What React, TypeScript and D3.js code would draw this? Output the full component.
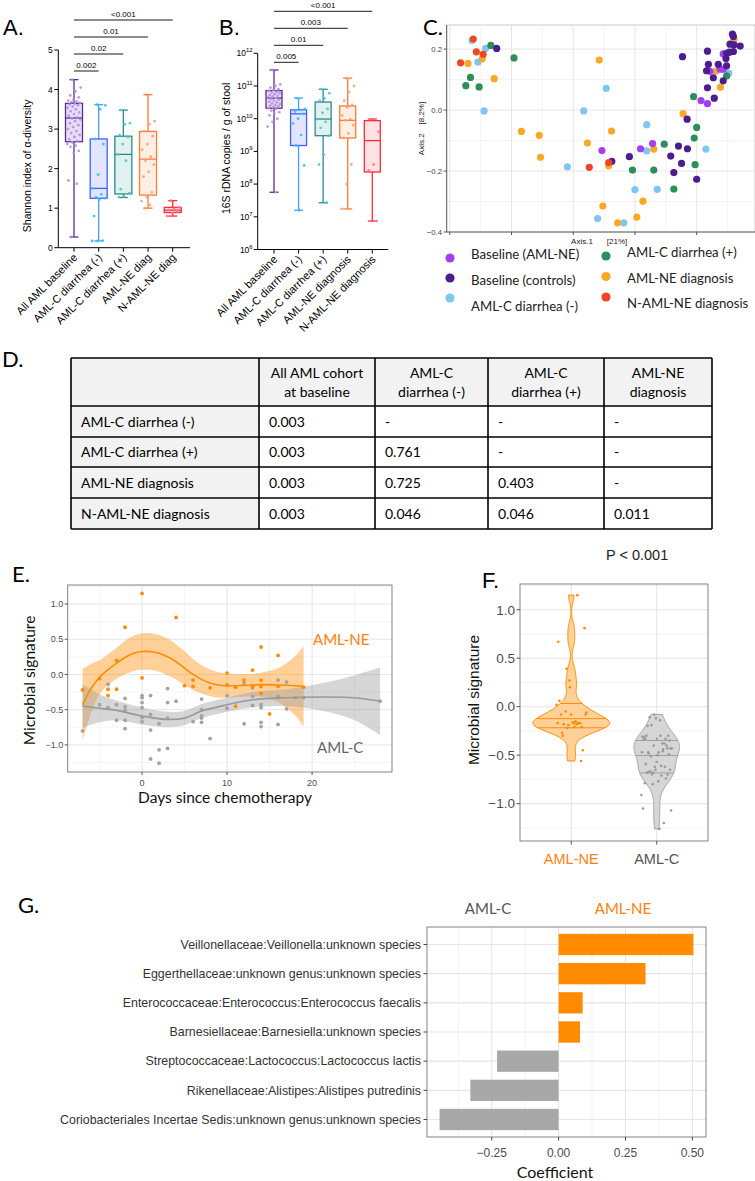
import React from "react";
import * as d3 from "d3";

const ARIAL = "'Liberation Sans', Arial, Helvetica, sans-serif";
const CAL = "Lato, 'Open Sans', sans-serif";

// ---------------- Panel A: Shannon diversity ----------------
const catsA = ["All AML baseline", "AML-C diarrhea (-)", "AML-C diarrhea (+)", "AML-NE diag", "N-AML-NE diag"];
const minA = [0.27, 0.17, 1.27, 1.0, 0.8];
const q1A = [2.68, 1.25, 1.36, 1.33, 0.89];
const medA = [3.28, 1.5, 2.36, 2.24, 0.95];
const q3A = [3.65, 2.75, 2.82, 2.94, 1.02];
const maxA = [4.25, 3.62, 3.48, 3.87, 1.19];
const ptsA1 = [4.25, 4.05, 3.95, 3.85, 3.8, 3.75, 3.72, 3.7, 3.68, 3.66, 3.64, 3.62, 3.6, 3.57, 3.54, 3.5, 3.45, 3.42, 3.38, 3.34, 3.3, 3.27, 3.24, 3.2, 3.15, 3.1, 3.05, 3.0, 2.95, 2.9, 2.85, 2.8, 2.74, 2.7, 2.66, 2.62, 2.58, 2.55, 2.45, 2.4, 1.7, 1.62, 0.27];
const ptsA2 = [3.62, 3.6, 3.5, 2.75, 2.62, 1.85, 1.5, 1.35, 1.28, 1.25, 1.22, 0.8, 0.18, 0.17, 0.17];
const ptsA3 = [3.48, 3.15, 3.12, 2.85, 2.8, 2.62, 2.36, 2.2, 1.48, 1.38, 1.3, 1.28];
const ptsA4 = [3.87, 3.2, 3.12, 2.95, 2.82, 2.62, 2.48, 2.3, 2.2, 2.1, 1.92, 1.8, 1.4, 1.28, 1.18, 1.08, 1.0];
const ptsA5 = [1.19, 1.02, 0.98, 0.95, 0.92, 0.88, 0.8];
const ticksA = [0, 1, 2, 3, 4, 5];
const bracketsA = ["0.002", "0.02", "0.01", "<0.001"];

// ---------------- Panel B: 16S copies (log10) ----------------
const catsB = ["All AML baseline", "AML-C diarrhea (-)", "AML-C diarrhea (+)", "AML-NE diagnosis", "N-AML-NE diagnosis"];
const minB = [7.75, 7.2, 7.43, 7.24, 6.87];
const q1B = [10.32, 9.18, 9.48, 9.41, 8.37];
const medB = [10.63, 10.15, 9.99, 9.95, 9.33];
const q3B = [10.86, 10.27, 10.51, 10.39, 9.94];
const maxB = [11.49, 10.63, 10.9, 11.24, 9.99];
const ptsB1 = [11.49, 11.05, 11.0, 10.95, 10.9, 10.88, 10.85, 10.82, 10.8, 10.78, 10.75, 10.72, 10.7, 10.68, 10.65, 10.63, 10.6, 10.58, 10.55, 10.52, 10.5, 10.47, 10.45, 10.42, 10.4, 10.38, 10.35, 10.32, 10.3, 10.25, 10.2, 10.15, 10.1, 10.0, 9.9, 9.76, 7.75];
const ptsB2 = [10.63, 10.3, 10.27, 10.22, 10.15, 10.0, 9.85, 9.5, 9.18, 8.57, 7.2];
const ptsB3 = [10.9, 10.78, 10.62, 10.55, 10.3, 10.18, 9.99, 9.9, 9.72, 9.48, 8.9, 8.6, 7.43];
const ptsB4 = [11.24, 11.0, 10.82, 10.55, 10.42, 10.35, 10.1, 9.98, 9.95, 9.8, 9.55, 9.41, 8.6, 8.0, 7.24];
const ptsB5 = [9.99, 9.6, 8.6, 8.42, 6.87];
const ticksB = [6, 7, 8, 9, 10, 11, 12];
const bracketsB = ["0.005", "0.01", "0.003", "<0.001"];

const boxStroke = ["#5b2d91", "#3a62ff", "#2b8a8f", "#ff7a36", "#ff2a3a"];
const boxWhisk = ["#5b2d91", "#4a9cff", "#2b8a8f", "#ff7a36", "#ff2a3a"];
const boxFill = ["#e8ddf5", "#e3e5ff", "#e1f1ef", "#feefe4", "#ffe2e4"];
const boxPt = ["#b391e2", "#2ec2ff", "#4ccac4", "#ffa071", "#ff7a86"];

// ---------------- Panel C: PCoA ----------------
const groupsC = ["Baseline (AML-NE)", "Baseline (controls)", "AML-C diarrhea (-)", "AML-C diarrhea (+)", "AML-NE diagnosis", "N-AML-NE diagnosis"];
const colorsC = ["#a23ff0", "#4b1d8e", "#80c6f0", "#2f8d5a", "#f7a924", "#ee4622"];
const pcoaBaselineNE = [[0.093, -0.133], [0.218, -0.127], [0.257, -0.11], [0.443, 0.127], [0.476, 0.134], [0.486, 0.134], [0.414, 0.031], [0.435, 0.021], [0.486, 0.184]];
const pcoaControls = [[-0.248, 0.202], [0.125, -0.168], [0.182, -0.153], [0.316, -0.151], [0.341, -0.118], [0.37, -0.127], [0.351, -0.175], [0.326, -0.205], [0.4, -0.227], [0.369, -0.03], [0.354, 0.175], [0.435, 0.193], [0.438, 0.15], [0.47, 0.15], [0.432, 0.129], [0.454, 0.106], [0.497, 0.145], [0.486, 0.096], [0.435, 0.073], [0.457, 0.039], [0.497, 0.186], [0.506, 0.19], [0.495, 0.169], [0.519, 0.192], [0.519, 0.241], [0.516, 0.249], [0.521, 0.214], [0.541, 0.21], [0.508, 0.216]];
const pcoaDiarrheaNeg = [[-0.328, 0.228], [-0.284, 0.202], [-0.309, 0.157], [-0.289, -0.003], [0.107, 0.071], [0.034, -0.003], [-0.019, -0.186], [0.238, -0.134], [0.238, -0.048], [0.2, -0.261], [0.272, -0.26], [0.079, -0.356], [0.164, -0.37], [0.43, -0.128], [0.504, 0.121]];
const pcoaDiarrheaPos = [[-0.267, 0.212], [-0.192, 0.171], [-0.333, 0.107], [-0.348, 0.08], [-0.305, 0.076], [0.295, -0.112], [0.192, -0.197], [0.261, -0.197], [0.395, -0.179], [0.392, -0.092], [0.4, -0.057], [0.326, -0.259], [0.497, 0.112], [0.39, 0.044]];
const pcoaNEdiag = [[-0.295, 0.168], [-0.341, 0.153], [-0.256, 0.103], [0.084, 0.164], [-0.168, -0.07], [-0.11, -0.083], [-0.106, -0.155], [0.046, -0.108], [0.115, -0.183], [0.124, -0.069], [0.261, -0.128], [0.356, -0.012], [0.226, -0.299], [0.096, -0.315], [0.206, -0.351], [0.144, -0.37], [0.462, 0.128], [0.477, 0.075], [0.521, 0.23]];
const pcoaNonNEdiag = [[-0.324, 0.233], [-0.314, 0.191], [-0.292, 0.183], [-0.365, 0.155], [0.115, -0.172], [0.052, -0.188]];
const ticksCx = [-0.4, -0.2, 0, 0.2, 0.4];
const ticksCy = [-0.4, -0.2, 0, 0.2];

// ---------------- Panel D: table ----------------
const tableHeader = [[""], ["All AML cohort", "at baseline"], ["AML-C", "diarrhea (-)"], ["AML-C", "diarrhea (+)"], ["AML-NE", "diagnosis"]];
const tableRows = ["AML-C diarrhea (-)", "AML-C diarrhea (+)", "AML-NE diagnosis", "N-AML-NE diagnosis"];
const tableValues = [
  ["0.003", "-", "-", "-"],
  ["0.003", "0.761", "-", "-"],
  ["0.003", "0.725", "0.403", "-"],
  ["0.003", "0.046", "0.046", "0.011"],
];

// ---------------- Panel E: microbial signature over time ----------------
const neDays = [-7, -5, -4, -4, -3, -3, -2, 0, 0, 4, 5, 6, 6, 8, 10, 10, 11, 11, 12, 13, 13, 14, 14, 14, 14, 15, 16, 16, 19];
const neVals = [-0.22, -0.06, -0.21, -0.3, -0.21, 0.2, 0.67, 1.15, -0.05, 0.81, -0.16, -0.08, -0.17, -0.19, 0.02, -0.15, -0.18, -0.45, -0.08, 0.06, -0.17, 0.39, -0.08, -0.17, -0.27, -0.56, 0.27, -0.17, -0.18];
const cDays = [-7, -5, -4, -4, -3, -3, -2, -2, -2, -2, -2, 0, 0, 0, 0, 0, 0, 1, 1, 1, 1, 2, 2, 2, 3, 3, 3, 3, 4, 6, 7, 7, 7, 7, 7, 8, 10, 10, 12, 12, 13, 13, 13, 14, 14, 14, 14, 16, 16, 16, 17, 17, 18, 19, 28];
const cVals = [-0.8, -0.43, -0.14, -0.47, -0.43, -0.65, -0.34, -0.46, -0.51, -0.65, -0.77, -0.3, -0.33, -0.4, -0.47, -0.61, -0.67, -0.3, -0.57, -0.79, -1.2, -0.7, -1.07, -1.26, -0.2, -0.4, -0.62, -1.05, -0.38, -0.67, -0.35, -0.5, -0.59, -0.62, -0.68, -0.91, -0.3, -0.48, -0.7, -0.12, -0.31, -0.44, -0.19, -0.43, -0.47, -0.68, -0.74, -0.08, -0.31, -0.71, -0.11, -0.49, -0.33, -0.33, -0.38];
// smoother (fit and half-width of the confidence band)
const neFitDays = [-7, -6, -5, -4, -3, -2, -1, 0, 1, 2, 3, 4, 5, 6, 7, 8, 9, 10, 12, 14, 16, 18, 19];
const neFit = [-0.43, -0.2, -0.04, 0.07, 0.16, 0.24, 0.3, 0.325, 0.325, 0.3, 0.25, 0.18, 0.09, 0.0, -0.07, -0.12, -0.15, -0.16, -0.155, -0.145, -0.15, -0.16, -0.17];
const neHalf = [0.51, 0.35, 0.24, 0.22, 0.22, 0.24, 0.25, 0.26, 0.26, 0.26, 0.26, 0.25, 0.24, 0.22, 0.2, 0.19, 0.18, 0.17, 0.16, 0.17, 0.24, 0.42, 0.57];
const cFitDays = [-7, -5, -3, 0, 3, 5, 7, 10, 13, 17, 21, 25, 28];
const cFit = [-0.45, -0.48, -0.51, -0.59, -0.64, -0.62, -0.52, -0.43, -0.36, -0.33, -0.32, -0.33, -0.38];
const cHalf = [0.31, 0.2, 0.14, 0.12, 0.11, 0.1, 0.1, 0.1, 0.11, 0.12, 0.19, 0.32, 0.48];
const ticksEx = [0, 10, 20];
const ticksEy = [-1, -0.5, 0, 0.5, 1];

// ---------------- Panel F ----------------
const catsF = ["AML-NE", "AML-C"];
const ticksFy = [-1, -0.5, 0, 0.5, 1];

// ---------------- Panel G: coefficients ----------------
const taxaG = [
  "Veillonellaceae:Veillonella:unknown species",
  "Eggerthellaceae:unknown genus:unknown species",
  "Enterococcaceae:Enterococcus:Enterococcus faecalis",
  "Barnesiellaceae:Barnesiella:unknown species",
  "Streptococcaceae:Lactococcus:Lactococcus lactis",
  "Rikenellaceae:Alistipes:Alistipes putredinis",
  "Coriobacteriales Incertae Sedis:unknown genus:unknown species",
];
const coefG = [0.504, 0.325, 0.09, 0.08, -0.23, -0.33, -0.445];
const ticksG = [-0.25, 0, 0.25, 0.5];

const ORANGE = "#ff8c00";

const jitter = (i: number) => (((i * 0.6180339887 + 0.37) % 1) - 0.5);

function Box({ cx, w, ymap, lo, q1, med, q3, hi, pts, i }: any) {
  const cap = 9;
  const s = boxStroke[i], wk = boxWhisk[i];
  return (
    <g>
      <line x1={cx} x2={cx} y1={ymap(hi)} y2={ymap(q3)} stroke={wk} strokeWidth={1.3} />
      <line x1={cx} x2={cx} y1={ymap(q1)} y2={ymap(lo)} stroke={wk} strokeWidth={1.3} />
      <line x1={cx - cap / 2} x2={cx + cap / 2} y1={ymap(hi)} y2={ymap(hi)} stroke={wk} strokeWidth={1.3} />
      <line x1={cx - cap / 2} x2={cx + cap / 2} y1={ymap(lo)} y2={ymap(lo)} stroke={wk} strokeWidth={1.3} />
      <rect x={cx - w / 2} y={ymap(q3)} width={w} height={ymap(q1) - ymap(q3)} fill={boxFill[i]} stroke={s} strokeWidth={1.3} />
      <line x1={cx - w / 2} x2={cx + w / 2} y1={ymap(med)} y2={ymap(med)} stroke={s} strokeWidth={1.3} />
      {pts.map((v: number, k: number) => (
        <circle key={k} cx={cx + jitter(k) * w * 0.8} cy={ymap(v)} r={1.4} fill={boxPt[i]} opacity={0.9} />
      ))}
    </g>
  );
}

function CatLabels({ x, cats, y0 }: any) {
  return (
    <g>
      {cats.map((c: string) => (
        <text key={c} transform={`translate(${x(c) + 4},${y0 + 10.5}) rotate(-45)`} textAnchor="end" fontFamily={ARIAL} fontSize={11} fill="#000">
          {c}
        </text>
      ))}
    </g>
  );
}

function PanelA() {
  const y = d3.scaleLinear().domain([0, 5]).range([247.7, 50]);
  const x = d3.scalePoint<string>().domain(catsA).range([74, 172.7]);
  const ax = 58.3, ay = y(0);
  const groups = [ptsA1, ptsA2, ptsA3, ptsA4, ptsA5];
  return (
    <g>
      <text x={3} y={35} fontFamily={ARIAL} fontSize={22}>A.</text>
      {catsA.map((c, i) => (
        <Box key={c} cx={x(c)} w={17} ymap={y} lo={minA[i]} q1={q1A[i]} med={medA[i]} q3={q3A[i]} hi={maxA[i]} pts={groups[i]} i={i} />
      ))}
      <line x1={ax} x2={ax} y1={y(5)} y2={ay} stroke="#000" strokeWidth={1} />
      <line x1={ax} x2={190} y1={ay} y2={ay} stroke="#000" strokeWidth={1} />
      {ticksA.map((t) => (
        <g key={t}>
          <line x1={ax - 4} x2={ax} y1={y(t)} y2={y(t)} stroke="#000" />
          <text x={ax - 5.5} y={y(t) + 3} textAnchor="end" fontFamily={ARIAL} fontSize={8.5}>{t}</text>
        </g>
      ))}
      {catsA.map((c) => (
        <line key={c} x1={x(c)} x2={x(c)} y1={ay} y2={ay + 4} stroke="#000" />
      ))}
      <CatLabels x={x} cats={catsA} y0={ay} />
      <text transform={`translate(31,${(y(0) + y(5)) / 2 + 17}) rotate(-90)`} textAnchor="middle" fontFamily={ARIAL} fontSize={10.5}>
        Shannon index of α-diversity
      </text>
      {bracketsA.map((lab, k) => {
        const ly = y(5) + 21 - k * 17;
        const x1 = x(catsA[0])!, x2 = x(catsA[k + 1])!;
        return (
          <g key={lab}>
            <line x1={x1} x2={x2} y1={ly} y2={ly} stroke="#000" strokeWidth={0.9} />
            <text x={(x1 + x2) / 2} y={ly - 3.5} textAnchor="middle" fontFamily={ARIAL} fontSize={8}>{lab}</text>
          </g>
        );
      })}
    </g>
  );
}

function PanelB() {
  const y = d3.scaleLog().domain([1e6, 1e12]).range([249.5, 53.3]);
  const ym = (v: number) => y(Math.pow(10, v));
  const x = d3.scalePoint<string>().domain(catsB).range([274, 372.3]);
  const ax = 257.7, ay = y(1e6);
  const groups = [ptsB1, ptsB2, ptsB3, ptsB4, ptsB5];
  return (
    <g>
      <text x={219} y={35} fontFamily={ARIAL} fontSize={22}>B.</text>
      {catsB.map((c, i) => (
        <Box key={c} cx={x(c)} w={16} ymap={ym} lo={minB[i]} q1={q1B[i]} med={medB[i]} q3={q3B[i]} hi={maxB[i]} pts={groups[i]} i={i} />
      ))}
      <line x1={ax} x2={ax} y1={y(1e12)} y2={ay} stroke="#000" />
      <line x1={ax} x2={388.3} y1={ay} y2={ay} stroke="#000" />
      {ticksB.map((t) => (
        <g key={t}>
          <line x1={ax - 4} x2={ax} y1={ym(t)} y2={ym(t)} stroke="#000" />
          <text x={ax - 5} y={ym(t) + 3} textAnchor="end" fontFamily={ARIAL} fontSize={8.5}>
            10<tspan fontSize={6} dy={-4}>{t}</tspan>
          </text>
        </g>
      ))}
      {catsB.map((c) => (
        <line key={c} x1={x(c)} x2={x(c)} y1={ay} y2={ay + 4} stroke="#000" />
      ))}
      <CatLabels x={x} cats={catsB} y0={ay} />
      <text transform={`translate(230,${(y(1e6) + y(1e12)) / 2 - 3}) rotate(-90)`} textAnchor="middle" fontFamily={ARIAL} fontSize={10.5}>
        16S rDNA copies / g of stool
      </text>
      {bracketsB.map((lab, k) => {
        const ly = y(1e12) + 9 - k * 17;
        const x1 = x(catsB[0])!, x2 = x(catsB[k + 1])!;
        return (
          <g key={lab}>
            <line x1={x1} x2={x2} y1={ly} y2={ly} stroke="#000" strokeWidth={0.9} />
            <text x={(x1 + x2) / 2} y={ly - 3.5} textAnchor="middle" fontFamily={ARIAL} fontSize={8}>{lab}</text>
          </g>
        );
      })}
    </g>
  );
}

function PanelC() {
  const x = d3.scaleLinear().domain([-0.41, 0.589]).range([446.7, 755]);
  const y = d3.scaleLinear().domain([-0.4, 0.279]).range([232, 25]);
  const sets = [pcoaBaselineNE, pcoaControls, pcoaDiarrheaNeg, pcoaDiarrheaPos, pcoaNEdiag, pcoaNonNEdiag];
  const order = [2, 3, 4, 0, 1, 5];
  const minorX = [-0.3, -0.1, 0.1, 0.3, 0.5];
  const minorY = [-0.3, -0.1, 0.1];
  const fmt = d3.format(".1f");
  const L = x.range()[0], R = x.range()[1], T = y.range()[1], B = y.range()[0];
  const legendLeft = [0, 1, 2], legendRight = [3, 4, 5];
  return (
    <g>
      <text x={423} y={35} fontFamily={CAL} fontSize={22}>C.</text>
      <rect x={L} y={T} width={R - L} height={B - T} fill="#fff" stroke="#bdbdbd" strokeWidth={0.8} />
      {minorX.map((t) => <line key={"mx" + t} x1={x(t)} x2={x(t)} y1={T} y2={B} stroke="#f0f0f0" strokeWidth={0.8} />)}
      {minorY.map((t) => <line key={"my" + t} x1={L} x2={R} y1={y(t)} y2={y(t)} stroke="#f0f0f0" strokeWidth={0.8} />)}
      {ticksCx.map((t) => <line key={"gx" + t} x1={x(t)} x2={x(t)} y1={T} y2={B} stroke="#e2e2e2" strokeWidth={0.9} />)}
      {ticksCy.map((t) => <line key={"gy" + t} x1={L} x2={R} y1={y(t)} y2={y(t)} stroke="#e2e2e2" strokeWidth={0.9} />)}
      {order.map((g) =>
        sets[g].map((p, k) => <circle key={g + "-" + k} cx={x(p[0])} cy={y(p[1])} r={3.6} fill={colorsC[g]} />)
      )}
      <line x1={L} x2={L} y1={T} y2={B} stroke="#555" strokeWidth={0.9} />
      <line x1={L} x2={R} y1={B} y2={B} stroke="#555" strokeWidth={0.9} />
      {ticksCy.map((t) => (
        <g key={"ty" + t}>
          <line x1={L - 3} x2={L} y1={y(t)} y2={y(t)} stroke="#555" />
          <text x={L - 4.5} y={y(t) + 2.8} textAnchor="end" fontFamily={ARIAL} fontSize={7.8} fill="#444">{fmt(t)}</text>
        </g>
      ))}
      {ticksCx.map((t) => <line key={"tx" + t} x1={x(t)} x2={x(t)} y1={B} y2={B + 3} stroke="#555" />)}
      <text x={582} y={244} textAnchor="middle" fontFamily={ARIAL} fontSize={8} fill="#222">Axis.1</text>
      <text x={617} y={244} textAnchor="middle" fontFamily={ARIAL} fontSize={8} fill="#222">[21%]</text>
      <text transform={`translate(424,${(T + B) / 2}) rotate(-90)`} textAnchor="middle" fontFamily={ARIAL} fontSize={8} fill="#222">
        Axis.2{"\u00A0\u00A0\u00A0\u00A0"}[8.2%]
      </text>
      {legendLeft.map((g, k) => (
        <g key={"ll" + g}>
          <circle cx={450} cy={258 + k * 20} r={4.6} fill={colorsC[g]} />
          <text x={471} y={259 + k * 26} fontFamily={CAL} fontSize={13.2} fill="#222">{groupsC[g]}</text>
        </g>
      ))}
      {legendRight.map((g, k) => (
        <g key={"lr" + g}>
          <circle cx={606} cy={256 + k * 20.5} r={4.6} fill={colorsC[g]} />
          <text x={627} y={257 + k * 25.5} fontFamily={CAL} fontSize={13.2} fill="#222">{groupsC[g]}</text>
        </g>
      ))}
    </g>
  );
}

function PanelD() {
  const colX = [71, 259, 375, 488, 604, 712];
  const rowY = [358, 406, 437, 467, 498, 529];
  const nCols = tableHeader.length;
  return (
    <g fontFamily={CAL} fontSize={14} fill="#000">
      <text x={2} y={367} fontFamily={CAL} fontSize={22}>D.</text>
      {tableHeader.map((_, c) => (
        <rect key={"h" + c} x={colX[c]} y={rowY[0]} width={colX[c + 1] - colX[c]} height={rowY[1] - rowY[0]} fill="#f2f2f2" />
      ))}
      {tableRows.map((_, r) => (
        <rect key={"rf" + r} x={colX[0]} y={rowY[r + 1]} width={colX[1] - colX[0]} height={rowY[r + 2] - rowY[r + 1]} fill="#f2f2f2" />
      ))}
      {tableHeader.map((lines, c) =>
        lines.map((ln, k) => (
          <text key={"ht" + c + k} x={(colX[c] + colX[c + 1]) / 2} y={378 + k * 19} textAnchor="middle">{ln}</text>
        ))
      )}
      {tableRows.map((lab, r) => (
        <g key={"r" + r}>
          <text x={colX[0] + 10} y={(rowY[r + 1] + rowY[r + 2]) / 2 + 5}>{lab}</text>
          {tableValues[r].map((v, c) => (
            <text key={c} x={colX[c + 1] + 10} y={(rowY[r + 1] + rowY[r + 2]) / 2 + 5}>{v}</text>
          ))}
        </g>
      ))}
      {rowY.map((yy, k) => <line key={"hl" + k} x1={colX[0]} x2={colX[nCols]} y1={yy} y2={yy} stroke="#000" strokeWidth={1.6} />)}
      {colX.map((xx, k) => <line key={"vl" + k} x1={xx} x2={xx} y1={rowY[0]} y2={rowY[rowY.length - 1]} stroke="#000" strokeWidth={1.6} />)}
    </g>
  );
}

function PanelE() {
  const x = d3.scaleLinear().domain([-8.75, 29.4]).range([67.7, 392]);
  const y = d3.scaleLinear().domain([-1.385, 1.27]).range([772, 585]);
  const L = 67.7, R = 392, T = 585, B = 772;
  const minorX = [-5, 5, 15, 25];
  const minorY = [-1.25, -0.75, -0.25, 0.25, 0.75, 1.25];
  const fmt = d3.format(".1f");
  const band = (days: number[], fit: number[], half: number[]) =>
    d3.area<number>().x((i) => x(days[i])).y0((i) => y(fit[i] - half[i])).y1((i) => y(fit[i] + half[i])).curve(d3.curveCatmullRom)(d3.range(days.length)) || "";
  const line = (days: number[], fit: number[]) =>
    d3.line<number>().x((i) => x(days[i])).y((i) => y(fit[i])).curve(d3.curveCatmullRom)(d3.range(days.length)) || "";
  return (
    <g>
      <text x={12} y={582} fontFamily={CAL} fontSize={22}>E.</text>
      <defs>
        <clipPath id="clipE"><rect x={L} y={T} width={R - L} height={B - T} /></clipPath>
      </defs>
      <rect x={L} y={T} width={R - L} height={B - T} fill="#fff" />
      {minorX.map((t) => <line key={"mx" + t} x1={x(t)} x2={x(t)} y1={T} y2={B} stroke="#f2f2f2" strokeWidth={0.8} />)}
      {minorY.map((t) => <line key={"my" + t} x1={L} x2={R} y1={y(t)} y2={y(t)} stroke="#f2f2f2" strokeWidth={0.8} />)}
      {ticksEx.map((t) => <line key={"gx" + t} x1={x(t)} x2={x(t)} y1={T} y2={B} stroke="#e5e5e5" strokeWidth={1} />)}
      {ticksEy.map((t) => <line key={"gy" + t} x1={L} x2={R} y1={y(t)} y2={y(t)} stroke="#e5e5e5" strokeWidth={1} />)}
      <g clipPath="url(#clipE)">
        <path d={band(neFitDays, neFit, neHalf)} fill={ORANGE} opacity={0.4} />
        <path d={band(cFitDays, cFit, cHalf)} fill="#999" opacity={0.4} />
        {cDays.map((d, i) => <circle key={"c" + i} cx={x(d)} cy={y(cVals[i])} r={1.9} fill="#a3a3a3" />)}
        {neDays.map((d, i) => <circle key={"n" + i} cx={x(d)} cy={y(neVals[i])} r={1.9} fill={ORANGE} />)}
        <path d={line(neFitDays, neFit)} fill="none" stroke={ORANGE} strokeWidth={1.6} />
        <path d={line(cFitDays, cFit)} fill="none" stroke="#999" strokeWidth={1.6} />
      </g>
      <rect x={L} y={T} width={R - L} height={B - T} fill="none" stroke="#777" strokeWidth={0.9} />
      {ticksEx.map((t) => (
        <g key={"tx" + t}>
          <line x1={x(t)} x2={x(t)} y1={B} y2={B + 3} stroke="#555" />
          <text x={x(t)} y={B + 14} textAnchor="middle" fontFamily={ARIAL} fontSize={9} fill="#4d4d4d">{t}</text>
        </g>
      ))}
      {ticksEy.map((t) => (
        <g key={"ty" + t}>
          <line x1={L - 3} x2={L} y1={y(t)} y2={y(t)} stroke="#555" />
          <text x={L - 4.5} y={y(t) + 3.2} textAnchor="end" fontFamily={ARIAL} fontSize={9} fill="#4d4d4d">{fmt(t)}</text>
        </g>
      ))}
      <text x={225} y={803} textAnchor="middle" fontFamily={CAL} fontSize={15.5} fill="#111">Days since chemotherapy</text>
      <text transform={`translate(35,${(T + B) / 2 + 2}) rotate(-90)`} textAnchor="middle" fontFamily={CAL} fontSize={15.5} fill="#111">Microbial signature</text>
      <text x={313} y={645} fontFamily={CAL} fontSize={15} fill="#ff7f0e">AML-NE</text>
      <text x={317} y={753} fontFamily={CAL} fontSize={15} fill="#666">AML-C</text>
    </g>
  );
}

function density(values: number[], n = 220) {
  const s = values.slice().sort(d3.ascending);
  const sd = d3.deviation(s) as number;
  const iqr = (d3.quantile(s, 0.75) as number) - (d3.quantile(s, 0.25) as number);
  const bw = 0.9 * Math.min(sd, iqr / 1.34) * Math.pow(s.length, -0.2);
  const lo = s[0], hi = s[s.length - 1];
  return d3.range(n).map((k) => {
    const t = lo + ((hi - lo) * k) / (n - 1);
    const d = (d3.mean(s, (v) => Math.exp(-0.5 * ((t - v) / bw) ** 2)) as number) / (bw * Math.sqrt(2 * Math.PI));
    return [t, d] as [number, number];
  });
}

function densQuantiles(dens: [number, number][], qs: number[]) {
  const cum = [0];
  for (let k = 1; k < dens.length; k++) {
    cum.push(cum[k - 1] + ((dens[k][1] + dens[k - 1][1]) / 2) * (dens[k][0] - dens[k - 1][0]));
  }
  const tot = cum[cum.length - 1];
  return qs.map((q) => {
    const target = q * tot;
    let k = cum.findIndex((c) => c >= target);
    if (k <= 0) k = 1;
    const f = (target - cum[k - 1]) / (cum[k] - cum[k - 1] || 1);
    const t = dens[k - 1][0] + f * (dens[k][0] - dens[k - 1][0]);
    const d = dens[k - 1][1] + f * (dens[k][1] - dens[k - 1][1]);
    return [t, d];
  });
}

function PanelF() {
  const y = d3.scaleLinear().domain([-1.385, 1.265]).range([841, 584]);
  const x = d3.scalePoint<string>().domain(catsF).range([520, 708]).padding(0.6);
  const L = 520, R = 708, T = 584, B = 841;
  const step = x.step();
  const dens = [density(neVals), density(cVals)];
  const maxD = d3.max(dens.flat(), (d) => d[1]) as number;
  const w = d3.scaleLinear().domain([0, maxD]).range([0, 0.45 * step]);
  const fills = ["#ffd199", "#d6d6d6"];
  const strokes = [ORANGE, "#a0a0a0"];
  const vals = [neVals, cVals];
  const ptCol = [ORANGE, "#9a9a9a"];
  const minorY = [-1.25, -0.75, -0.25, 0.25, 0.75, 1.25];
  const fmt = d3.format(".1f");
  return (
    <g>
      <text x={606} y={560} fontFamily={ARIAL} fontSize={14.5} fill="#222">P &lt; 0.001</text>
      <text x={482} y={588} fontFamily={ARIAL} fontSize={22}>F.</text>
      <rect x={L} y={T} width={R - L} height={B - T} fill="#fff" />
      {minorY.map((t) => <line key={"my" + t} x1={L} x2={R} y1={y(t)} y2={y(t)} stroke="#f2f2f2" strokeWidth={0.9} />)}
      {ticksFy.map((t) => <line key={"gy" + t} x1={L} x2={R} y1={y(t)} y2={y(t)} stroke="#e5e5e5" strokeWidth={1.1} />)}
      {catsF.map((c) => <line key={"gx" + c} x1={x(c)} x2={x(c)} y1={T} y2={B} stroke="#e5e5e5" strokeWidth={1.1} />)}
      {catsF.map((c, g) => {
        const cx = x(c)!;
        const area = d3.area<[number, number]>().y((d) => y(d[0])).x0((d) => cx - w(d[1])).x1((d) => cx + w(d[1]))(dens[g]) || "";
        const qs = densQuantiles(dens[g], [0.25, 0.5, 0.75]);
        return (
          <g key={c}>
            <path d={area} fill={fills[g]} stroke={strokes[g]} strokeWidth={1} />
            {qs.map((q, k) => (
              <line key={k} x1={cx - w(q[1])} x2={cx + w(q[1])} y1={y(q[0])} y2={y(q[0])} stroke={strokes[g]} strokeWidth={1} />
            ))}
            {vals[g].map((v, k) => (
              <circle key={k} cx={cx + jitter(k) * step * 0.36} cy={y(v)} r={1.3} fill={ptCol[g]} />
            ))}
          </g>
        );
      })}
      <rect x={L} y={T} width={R - L} height={B - T} fill="none" stroke="#777" strokeWidth={0.9} />
      {ticksFy.map((t) => (
        <g key={"ty" + t}>
          <line x1={L - 3.5} x2={L} y1={y(t)} y2={y(t)} stroke="#555" />
          <text x={L - 5} y={y(t) + 4.8} textAnchor="end" fontFamily={ARIAL} fontSize={13.5} fill="#4d4d4d">{fmt(t)}</text>
        </g>
      ))}
      {catsF.map((c, g) => (
        <g key={"tx" + c}>
          <line x1={x(c)} x2={x(c)} y1={B} y2={B + 3.5} stroke="#555" />
          <text x={x(c)} y={864} textAnchor="middle" fontFamily={ARIAL} fontSize={14.5} fill={g === 0 ? "#ff7f0e" : "#555"}>{c}</text>
        </g>
      ))}
      <text transform={`translate(479,700) rotate(-90)`} textAnchor="middle" fontFamily={ARIAL} fontSize={15.5} fill="#111">Microbial signature</text>
    </g>
  );
}

function PanelG() {
  const x = d3.scaleLinear().domain([-0.492, 0.551]).range([427, 706]);
  const y = d3.scalePoint<string>().domain(taxaG).range([927, 1137]).padding(0.6);
  const L = 427, R = 706, T = 927, B = 1137;
  const bh = y.step() * 0.73;
  const minorX = [-0.375, -0.125, 0.125, 0.375];
  const fmt = d3.format(".2f");
  return (
    <g>
      <text x={18} y={913} fontFamily={CAL} fontSize={22}>G.</text>
      <text x={488} y={914} textAnchor="middle" fontFamily={CAL} fontSize={15} fill="#555">AML-C</text>
      <text x={623} y={914} textAnchor="middle" fontFamily={CAL} fontSize={15} fill="#ff7f0e">AML-NE</text>
      <rect x={L} y={T} width={R - L} height={B - T} fill="#fff" />
      {minorX.map((t) => <line key={"mx" + t} x1={x(t)} x2={x(t)} y1={T} y2={B} stroke="#f2f2f2" strokeWidth={0.9} />)}
      {ticksG.map((t) => <line key={"gx" + t} x1={x(t)} x2={x(t)} y1={T} y2={B} stroke="#e5e5e5" strokeWidth={1.1} />)}
      {taxaG.map((t) => <line key={"gy" + t} x1={L} x2={R} y1={y(t)} y2={y(t)} stroke="#e5e5e5" strokeWidth={1.1} />)}
      {taxaG.map((t, i) => {
        const v = coefG[i];
        return (
          <rect key={"b" + t} x={x(Math.min(0, v))} y={y(t)! - bh / 2} width={Math.abs(x(v) - x(0))} height={bh} fill={v > 0 ? ORANGE : "#a8a8a8"} />
        );
      })}
      <rect x={L} y={T} width={R - L} height={B - T} fill="none" stroke="#777" strokeWidth={0.9} />
      {taxaG.map((t) => (
        <g key={"ty" + t}>
          <line x1={L - 3.5} x2={L} y1={y(t)} y2={y(t)} stroke="#444" />
          <text x={L - 6} y={y(t)! + 4.2} textAnchor="end" fontFamily={ARIAL} fontSize={12.4} fill="#333">{t}</text>
        </g>
      ))}
      {ticksG.map((t) => (
        <g key={"tx" + t}>
          <line x1={x(t)} x2={x(t)} y1={B} y2={B + 3.5} stroke="#444" />
          <text x={x(t)} y={1156.5} textAnchor="middle" fontFamily={ARIAL} fontSize={12} fill="#4d4d4d">{fmt(t)}</text>
        </g>
      ))}
      <text x={555} y={1178} textAnchor="middle" fontFamily={CAL} fontSize={16} fill="#111">Coefficient</text>
    </g>
  );
}

export default function App() {
  return (
    <svg width={755} height={1181} viewBox="0 0 755 1181" style={{ position: "absolute", left: 0, top: 0, background: "#fff" }}>
      <rect width={755} height={1181} fill="#fff" />
      <PanelA />
      <PanelB />
      <PanelC />
      <PanelD />
      <PanelE />
      <PanelF />
      <PanelG />
    </svg>
  );
}
